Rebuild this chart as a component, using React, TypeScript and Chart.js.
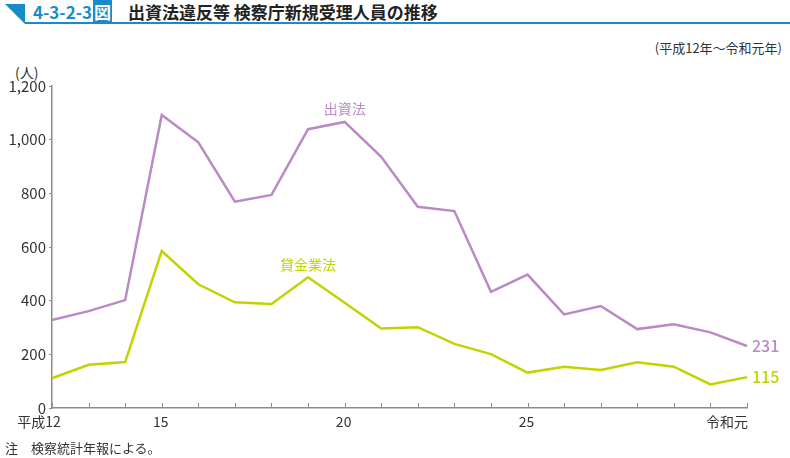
import React, { useEffect, useRef } from "react";
import { Chart, registerables } from "chart.js";

Chart.register(...registerables);

const years: string[] = [
  "平成12", "13", "14", "15", "16", "17", "18", "19", "20", "21",
  "22", "23", "24", "25", "26", "27", "28", "29", "30", "令和元",
];
const shownLabels: string[] = ["平成12", "15", "20", "25", "令和元"];
const shusshiho: number[] = [
  328, 361, 402, 1092, 990, 769, 794, 1039, 1066, 936,
  750, 734, 433, 497, 349, 380, 294, 312, 282, 231,
];
const kashikin: number[] = [
  111, 161, 171, 585, 461, 394, 388, 487, 392, 296,
  301, 239, 201, 132, 154, 142, 170, 154, 88, 115,
];
const yTicks: number[] = [0, 200, 400, 600, 800, 1000, 1200];

const PURPLE = "#b98ac4";
const GREEN = "#c2d400";
const BLUE = "#1a8bc9";
const FONT = "'Noto Sans CJK JP', 'Noto Sans', sans-serif";

const labelPlugin = {
  id: "labels",
  afterDraw(chart: any) {
    const { ctx, scales } = chart;
    const x = scales.x;
    const y = scales.y;
    const area = chart.chartArea;
    ctx.save();
    // inward x ticks
    ctx.strokeStyle = "#8c8c8c";
    ctx.lineWidth = 1;
    for (let i = 0; i < years.length; i++) {
      const px = Math.round(x.getPixelForValue(i)) + 0.5;
      ctx.beginPath();
      ctx.moveTo(px, area.bottom);
      ctx.lineTo(px, area.bottom - 5);
      ctx.stroke();
    }
    // x labels
    ctx.font = `14px ${FONT}`;
    ctx.fillStyle = "#333";
    ctx.textBaseline = "middle";
    const last = years.length - 1;
    years.forEach((lab, i) => {
      if (!shownLabels.includes(lab)) return;
      const px = x.getPixelForValue(i);
      if (i === 0) {
        ctx.textAlign = "center";
        ctx.fillText(lab, px - 13, area.bottom + 14);
      } else if (i === last) {
        ctx.textAlign = "right";
        ctx.fillText(lab, px + 1, area.bottom + 14);
      } else {
        ctx.textAlign = "center";
        ctx.fillText(lab, px - 1, area.bottom + 14);
      }
    });
    // end labels
    ctx.font = `500 16px ${FONT}`;
    ctx.textAlign = "left";
    ctx.fillStyle = PURPLE;
    ctx.fillText(String(shusshiho[last]), x.getPixelForValue(last) + 5, y.getPixelForValue(shusshiho[last]));
    ctx.fillStyle = GREEN;
    ctx.fillText(String(kashikin[last]), x.getPixelForValue(last) + 5, y.getPixelForValue(kashikin[last]));
    // series labels
    ctx.font = `14px ${FONT}`;
    ctx.textAlign = "center";
    ctx.fillStyle = PURPLE;
    ctx.fillText("出資法", x.getPixelForValue(8), y.getPixelForValue(1115));
    ctx.fillStyle = GREEN;
    ctx.fillText("貸金業法", x.getPixelForValue(7), y.getPixelForValue(533));
    ctx.restore();
  },
};

export default function App() {
  const ref = useRef<HTMLCanvasElement | null>(null);
  useEffect(() => {
    document.body.style.margin = "0";
    if (!ref.current) return;
    const chart = new Chart(ref.current, {
      type: "line",
      data: {
        labels: years,
        datasets: [
          {
            label: "出資法",
            data: shusshiho,
            borderColor: PURPLE,
            borderWidth: 2.5,
            pointRadius: 0,
            tension: 0,
          },
          {
            label: "貸金業法",
            data: kashikin,
            borderColor: GREEN,
            borderWidth: 2.5,
            pointRadius: 0,
            tension: 0,
          },
        ],
      },
      options: {
        animation: false,
        responsive: false,
        layout: { padding: { left: 0, right: 43, top: 86, bottom: 20 } },
        plugins: { legend: { display: false }, tooltip: { enabled: false } },
        scales: {
          x: {
            offset: false,
            grid: { display: true, drawOnChartArea: false, drawTicks: false },
            border: { color: "#8c8c8c", width: 1.5 },
            ticks: {
              autoSkip: false,
              maxRotation: 0,
              padding: 4,
              color: "rgba(0,0,0,0)",
              font: { family: FONT, size: 14 },
              callback: () => "",
            },
            afterFit: (s: any) => {
              s.height = 30;
            },
          },
          y: {
            min: 0,
            max: 1200,
            afterBuildTicks: (s: any) => {
              s.ticks = yTicks.map((v) => ({ value: v }));
            },
            grid: { drawOnChartArea: false, drawTicks: true, tickLength: 3, color: "#8c8c8c" },
            border: { color: "#8c8c8c", width: 1.5 },
            ticks: {
              padding: 3,
              color: "#333",
              font: { family: FONT, size: 15 },
              callback: (v: any) => Number(v).toLocaleString("en-US"),
            },
            afterFit: (s: any) => {
              s.width = 52;
            },
          },
        },
      },
      plugins: [labelPlugin],
    });
    return () => chart.destroy();
  }, []);

  return (
    <div style={{ position: "relative", width: 790, height: 458, fontFamily: FONT, overflow: "hidden" }}>
      <svg width={790} height={30} style={{ position: "absolute", left: 0, top: 0 }}>
        <polygon points="5,4 25,4 25,24" fill={BLUE} />
        <rect x={25} y={22} width={765} height={2} fill={BLUE} />
      </svg>
      <div style={{ position: "absolute", left: 33, top: 1, fontSize: 17, fontWeight: 700, color: BLUE, lineHeight: "22px", whiteSpace: "nowrap" }}>
        4-3-2-3
        <span style={{ background: BLUE, color: "#fff", padding: "0 1px", marginLeft: 1 }}>図</span>
      </div>
      <div style={{ position: "absolute", left: 128, top: 1, fontSize: 17, fontWeight: 700, color: "#222", lineHeight: "22px", whiteSpace: "nowrap" }}>
        出資法違反等 検察庁新規受理人員の推移
      </div>
      <div style={{ position: "absolute", right: 8, top: 38, fontSize: 13, color: "#333", whiteSpace: "nowrap" }}>
        (平成12年～令和元年)
      </div>
      <div style={{ position: "absolute", left: 15, top: 62, fontSize: 14, color: "#333", whiteSpace: "nowrap" }}>
        (人)
      </div>
      <canvas ref={ref} width={790} height={458} style={{ position: "absolute", left: 0, top: 0 }} />
      <div style={{ position: "absolute", left: 5, top: 438, fontSize: 13, color: "#333", whiteSpace: "nowrap" }}>
        注　検察統計年報による。
      </div>
    </div>
  );
}
